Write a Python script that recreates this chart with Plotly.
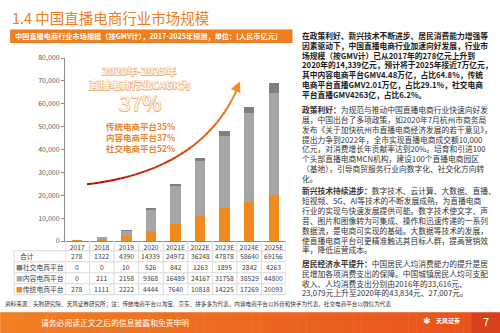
import plotly.graph_objects as go

# ---------------- data ----------------
years = ["2017", "2018", "2019", "2020", "2021E", "2022E", "2023E", "2024E", "2025E"]
total = [278, 1322, 4390, 14339, 24972, 36248, 47878, 58640, 69156]
social = [0, 0, 10, 526, 842, 1263, 1895, 2842, 4263]
content = [0, 211, 2158, 9368, 16489, 24167, 31758, 38529, 44800]
traditional = [278, 1111, 2222, 4444, 7640, 10818, 14225, 17269, 20093]

series_names = ["社交电商平台", "内容电商平台", "传统电商平台"]
total_label = "合计"
cagr_lines = ["2020年-2025年", "直播电商行业CAGR为", "37%"]
platform_cagr = [("传统电商平台", "35%"), ("内容电商平台", "37%"), ("社交电商平台", "52%")]

title = "1.4 中国直播电商行业市场规模"
chart_header = "中国直播电商行业市场规模（按GMV计），2017-2025年预测，单位：[人民币亿元]"
source = ("资料来源：头豹研究院、天风证券研究所；注：传统电商平台以淘宝、京东、拼多多为代表，"
          "内容电商平台以抖音和快手为代表，社交电商平台以微信为代表")
footer = "请务必阅读正文之后的信息披露和免责申明"

intro_lines = [
    "在政策利好、新兴技术不断进步、居民消费能力增强等",
    "因素驱动下，中国直播电商行业加速向好发展，行业市",
    "场规模（按GMV计）已从2017年的278亿元上升到",
    "2020年的14,339亿元，预计将于2025年接近7万亿元，",
    "其中内容电商平台GMV4.48万亿，占比64.8%，传统",
    "电商平台直播GMV2.01万亿，占比29.1%，社交电商",
    "平台直播GMV4263亿，占比6.2%。",
]
sec1 = [
    "<b>政策利好：</b>为规范与推动中国直播电商行业快速向好发",
    "展，中国出台了多项政策，如2020年7月杭州市商务局",
    "发布《关于加快杭州市直播电商经济发展的若干意见》，",
    "提出力争到2022年，全市实现直播电商成交额10,000",
    "亿元，对消费增长年贡献率达到20%。培育和引进100",
    "个头部直播电商MCN机构，建设100个直播电商园区",
    "（基地），引导商贸服务行业向数字化、社交化方向转",
    "化。",
]
sec2 = [
    "<b>新兴技术持续进步：</b>数字技术、云计算、大数据、直播、",
    "短视频、5G、AI等技术的不断发展成熟，为直播电商",
    "行业的实现与快速发展提供可能。数字技术使文字、声",
    "音、图片和图像转为可集成、操作和迅速传递的一系列",
    "数据流，是电商可实现的基础。大数据等技术的发展，",
    "使直播电商平台可更精准触达其目标人群，提高营销效",
    "率，降低运营成本。",
]
sec3 = [
    "<b>居民经济水平提升：</b>中国居民人均消费能力的提升是居",
    "民增加各项消费支出的保障。中国城镇居民人均可支配",
    "收入、人均消费支出分别由2016年的33,616元、",
    "23,079元上升至2020年的43,834元、27,007元。",
]

# ---------------- styling ----------------
FONT = "Noto Sans CJK SC"
ORANGE = "#F18A1E"
GRAY = "#A6A6A6"
DARK = "#7F7F7F"
colors = {"社交电商平台": DARK, "内容电商平台": GRAY, "传统电商平台": ORANGE}
values = {"社交电商平台": social, "内容电商平台": content, "传统电商平台": traditional}

W, H = 500, 333
L, R, T, B = 65, 286.5, 57.5, 240.7


def px(x):
    return (x - L) / (R - L)


def py(y):
    return (B - y) / (B - T)


fig = go.Figure()
for name in ["传统电商平台", "内容电商平台", "社交电商平台"]:
    fig.add_trace(go.Bar(x=years, y=values[name], name=name, marker_color=colors[name],
                         marker_line_width=0, width=0.42))

annotations = []
shapes = []


def text(x, y, s, size, color="#222", anchor="left", bold=False, xref="paper", font=FONT, **kw):
    annotations.append(dict(
        x=px(x) if xref == "paper" else x, y=py(y), xref=xref, yref="paper",
        text=(f"<b>{s}</b>" if bold else s), showarrow=False, xanchor=anchor, yanchor="middle",
        borderpad=0, font=dict(family=font, size=size, color=color, **kw)))


# title + header bar
text(11, 17, title, 14.5, color="#EE7D24")
shapes.append(dict(type="rect", xref="paper", yref="paper", x0=px(10), x1=px(293), y0=py(29), y1=py(42.5),
                   fillcolor="#F07D1E", line_width=0, layer="below"))
text(14, 35.8, chart_header, 7.2, color="white", bold=True)

# CAGR callout (outlined text)
outline = "#EDB07A"
sh = ", ".join(f"{a}px {b}px 0 {outline}" for a, b in [(-0.5, -0.5), (0.5, -0.5), (-0.5, 0.5), (0.5, 0.5)])
text(140, 70, cagr_lines[0], 10.5, color="#FFF6EC", anchor="center", bold=True, shadow=sh)
text(140, 84.3, cagr_lines[1], 10.5, color="#FFF6EC", anchor="center", bold=True, shadow=sh)
text(141, 102, cagr_lines[2], 21, color="#FFF6EC", anchor="center", shadow=sh)
for i, (nm, pct) in enumerate(platform_cagr):
    text(141, 125.7 + 10.8 * i, f"{nm}{pct}", 8.5, color="#E9862A", anchor="center", bold=True)

# gradient arrow (decoration)
P0, P1, P2 = (87, 184), (205, 170), (240, 83)
N = 40
c0, c1 = (192, 0, 0), (242, 140, 30)
pts = []
for k in range(N + 1):
    t = k / N
    x = (1 - t) ** 2 * P0[0] + 2 * (1 - t) * t * P1[0] + t ** 2 * P2[0]
    y = (1 - t) ** 2 * P0[1] + 2 * (1 - t) * t * P1[1] + t ** 2 * P2[1]
    pts.append((x, y))
for k in range(N):
    t = k / (N - 1)
    col = "rgb(%d,%d,%d)" % tuple(int(c0[j] + (c1[j] - c0[j]) * t) for j in range(3))
    (xa, ya), (xb, yb) = pts[k], pts[k + 1]
    shapes.append(dict(type="line", xref="paper", yref="paper", x0=px(xa), y0=py(ya), x1=px(xb), y1=py(yb),
                       line=dict(color=col, width=2)))
annotations.append(dict(x=px(P2[0]), y=py(P2[1] - 2), xref="paper", yref="paper", ax=-2.6, ay=6.5,
                        showarrow=True, arrowhead=2, arrowsize=1.3, arrowwidth=1.6, arrowcolor="#F28C1E",
                        text=""))

# data table below the axis
grid = "#D9D9D9"
row_y = [256, 267, 278, 289]
row_lines = [250.5, 261.5, 272.5, 283.5, 294.5]
for yy in row_lines:
    shapes.append(dict(type="line", xref="paper", yref="paper", x0=px(14), x1=1, y0=py(yy), y1=py(yy),
                       line=dict(color=grid, width=1)))
shapes.append(dict(type="line", xref="paper", yref="paper", x0=px(14), x1=px(14), y0=py(250.5), y1=py(294.5),
                   line=dict(color=grid, width=1)))
for i in range(len(years) + 1):
    shapes.append(dict(type="line", xref="x", yref="paper", x0=i - 0.5, x1=i - 0.5, y0=py(B), y1=py(294.5),
                       line=dict(color=grid, width=1)))

rows = [(total_label, None, total), ("社交电商平台", DARK, social), ("内容电商平台", GRAY, content),
        ("传统电商平台", ORANGE, traditional)]
for (lab, col, vals), yy in zip(rows, row_y):
    if col is None:
        text(27, yy, lab, 6.8, color="#404040", anchor="center")
    else:
        text(15, yy, f"<span style='color:{col}'>■</span>{lab}", 6.8, color="#404040")
    for i, v in enumerate(vals):
        text(i, yy, f"{v}", 6.8, color="#404040", anchor="center", xref="x")

# right text column
XT = 301.5
FS = 7.75
for i, s in enumerate(intro_lines):
    text(XT, 35 + 9.8 * i, s, FS, color="#1a1a1a", bold=True)
for i, s in enumerate(sec1):
    text(XT, 109.3 + 9.8 * i, s, FS, color="#333333")
for i, s in enumerate(sec2):
    text(XT, 190 + 9.95 * i, s, FS, color="#333333")
for i, s in enumerate(sec3):
    text(XT, 263.3 + 9.8 * i, s, FS, color="#333333")

# source line
text(4, 303.5, source, 5.6, color="#333333")

# footer band with gradient
NF = 60
f0, f1 = (242, 128, 36), (232, 84, 30)
for k in range(NF):
    xa = 472 * k / NF
    xb = 472 * (k + 1) / NF + 0.5
    t = k / (NF - 1)
    col = "rgb(%d,%d,%d)" % tuple(int(f0[j] + (f1[j] - f0[j]) * t) for j in range(3))
    shapes.append(dict(type="rect", xref="paper", yref="paper", x0=px(xa), x1=px(xb), y0=py(312), y1=py(334),
                       fillcolor=col, line_width=0, layer="below"))
shapes.append(dict(type="rect", xref="paper", yref="paper", x0=px(472), x1=px(501), y0=py(312), y1=py(334),
                   fillcolor="#D8401C", line_width=0, layer="below"))
text(40, 322, footer, 7.8, color="white")
text(428, 321, "✱", 9, color="white", anchor="center", font="DejaVu Sans")
text(436, 320, "天风证券", 6, color="white", bold=True)
text(487, 320.5, "7", 11, color="white", anchor="center")

fig.update_layout(
    width=W, height=H, barmode="stack", showlegend=False,
    paper_bgcolor="white", plot_bgcolor="white",
    margin=dict(l=L, r=W - R, t=T, b=H - B, pad=0),
    font=dict(family=FONT, size=7, color="#595959"),
    annotations=annotations, shapes=shapes, bargap=0.58,
)
fig.update_xaxes(type="category", range=[-0.5, len(years) - 0.5], showline=True, linecolor="#8C8C8C",
                 linewidth=1, ticks="", tickfont=dict(size=6.8, color="#404040"), showgrid=False,
                 ticklabelstandoff=0)
fig.update_yaxes(range=[0, 80000], dtick=10000, tickformat=",", showline=True, linecolor="#8C8C8C",
                 linewidth=1, ticks="outside", ticklen=3, tickcolor="#8C8C8C",
                 tickfont=dict(size=7, color="#595959"), showgrid=False, zeroline=False)

fig.write_html("out.html")
